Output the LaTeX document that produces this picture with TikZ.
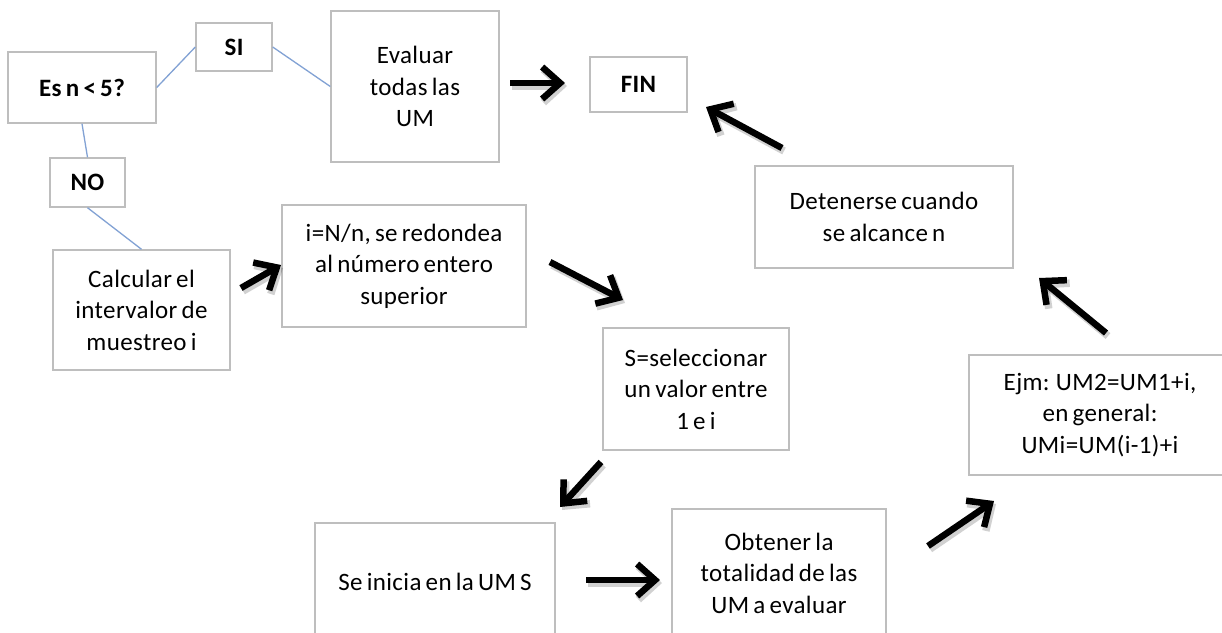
\documentclass[tikz,border=0pt]{standalone}
\usepackage{fontspec}
\setmainfont{Carlito}[LetterSpace=1.5,WordSpace=0.7]
\usetikzlibrary{arrows.meta}
\definecolor{boxgray}{HTML}{BEBEBE}
\definecolor{linkblue}{HTML}{82A2D4}
\tikzset{
  box/.style={draw=boxgray, line width=1.4pt, fill=white, align=center, inner sep=0pt,
    font=\fontsize{25}{31.5}\selectfont},
  boldbox/.style={box, font=\fontsize{25}{31.5}\selectfont\bfseries},
  link/.style={draw=linkblue, line width=1.3pt},
  bigarr/.style={draw=black, line width=6.5pt, -{Straight Barb[length=18pt,width=32pt,line width=6.5pt]}},
  arrshadow/.style={draw=black, opacity=0.18, line width=7.5pt, -{Straight Barb[length=18pt,width=33pt,line width=7.5pt]}}
}
\begin{document}
\begin{tikzpicture}[x=1pt,y=-1pt]
\useasboundingbox (0,0) rectangle (1222,632);
\clip (0,0) rectangle (1222,632);
\fill[white] (0,0) rectangle (1222,632);

% boxes
\node[boldbox, minimum width=148, minimum height=71] (es) at (82,87.5) {Es n < 5?};
\node[boldbox, minimum width=76, minimum height=48] (si) at (234,47) {SI};
\node[box, minimum width=168, minimum height=151] (ev) at (415,86.5) {Evaluar\\todas las\\UM};
\node[boldbox, minimum width=75, minimum height=49] (no) at (87.5,182.5) {NO};
\node[boldbox, minimum width=97, minimum height=55] (fin) at (638.5,84.5) {FIN};
\node[box, minimum width=258, minimum height=102] (det) at (884,217) {Detenerse cuando\\se alcance n};
\node[box, minimum width=177, minimum height=120] (calc) at (141.5,310) {Calcular el\\intervalor de\\muestreo i};
\node[box, minimum width=244, minimum height=122] (inn) at (404,266) {i=N/n, se redondea\\al número entero\\superior};
\node[box, minimum width=186, minimum height=122] (ssel) at (696,389) {S=seleccionar\\un valor entre\\1 e i};
\node[box, minimum width=262, minimum height=120] (ejm) at (1100,415) {Ejm: UM2=UM1+i,\\en general:\\UMi=UM(i-1)+i};
\node[box, minimum width=240, minimum height=117] (se) at (435,581.5) {Se inicia en la UM S};
\node[box, minimum width=214, minimum height=128] (obt) at (779,573) {Obtener la\\totalidad de las\\UM a evaluar};

% thin links
\draw[link] (es.east) -- (si.west);
\draw[link] (si.east) -- (ev.west);
\draw[link] (es.south) -- (no.north);
\draw[link] (no.south) -- (calc.north);

% arrow end points
\coordinate (a1s) at (510,83);   \coordinate (a1e) at (565,83);
\coordinate (a2s) at (782,148);  \coordinate (a2e) at (706,107);
\coordinate (a3s) at (1106,333); \coordinate (a3e) at (1039,278);
\coordinate (a4s) at (241,288);  \coordinate (a4e) at (281,265);
\coordinate (a5s) at (550,262);  \coordinate (a5e) at (623,300);
\coordinate (a6s) at (601,462);  \coordinate (a6e) at (560,507);
\coordinate (a7s) at (586,580);  \coordinate (a7e) at (660,580);
\coordinate (a8s) at (928,546);  \coordinate (a8e) at (994,501);

\foreach \a in {1,...,8}{
  \draw[arrshadow] ([shift={(2,3)}]a\a s) -- ([shift={(2,3)}]a\a e);
}
\foreach \a in {1,...,8}{
  \draw[bigarr] (a\a s) -- (a\a e);
}
\end{tikzpicture}
\end{document}
